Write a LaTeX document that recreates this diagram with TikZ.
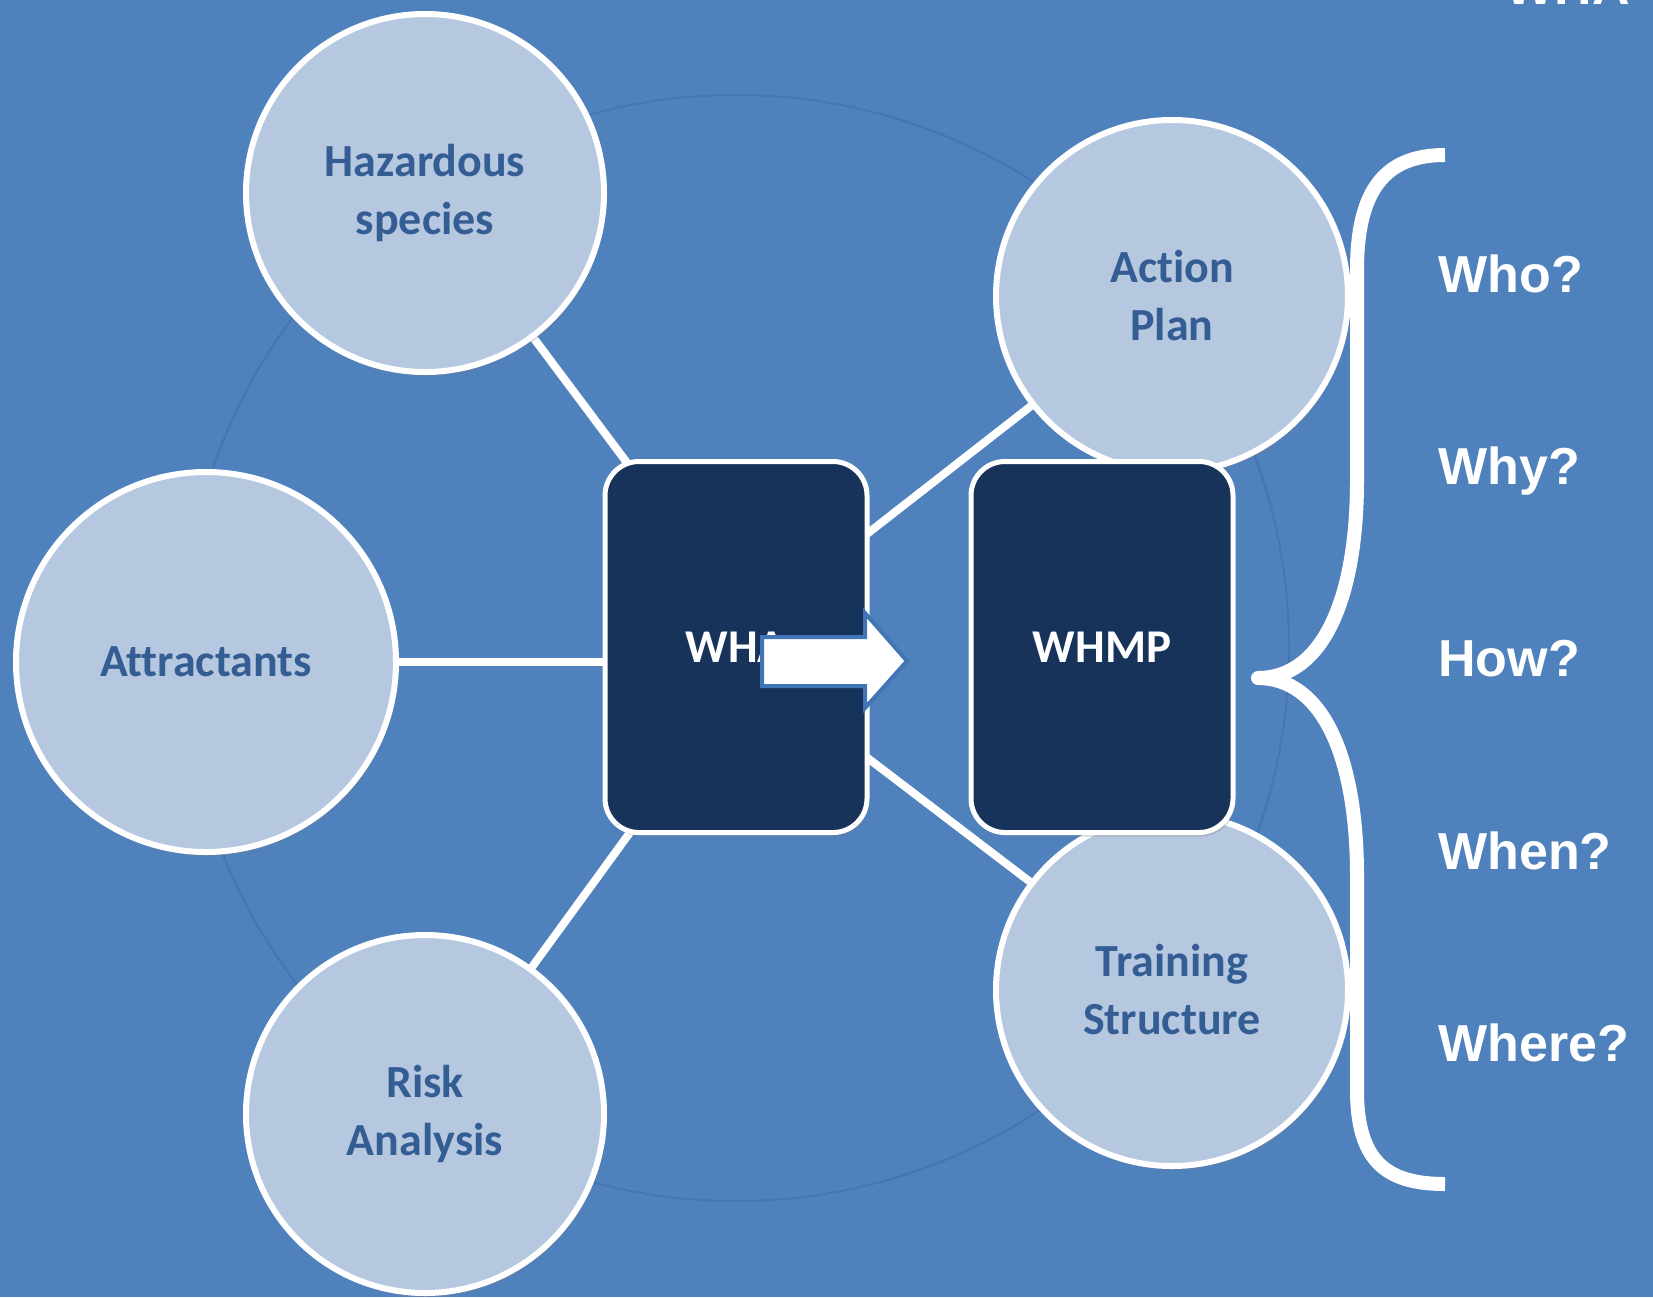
\documentclass[tikz,border=0pt]{standalone}
\usepackage{fontspec}
\setmainfont{Carlito}[Ligatures=CommonOff]
\newfontfamily\askfont{Liberation Sans}
\usetikzlibrary{shadows}

\definecolor{bgblue}{RGB}{79,129,189}
\definecolor{ringblue}{RGB}{70,118,178}
\definecolor{discfill}{RGB}{182,200,224}
\definecolor{disctext}{RGB}{52,93,148}
\definecolor{boxnavy}{RGB}{23,51,90}
\definecolor{arrowedge}{RGB}{66,117,182}

\pgfdeclarelayer{canvas}
\pgfdeclarelayer{spokes}
\pgfsetlayers{canvas,spokes,main}

\tikzset{
  disc/.style={circle, draw=white, line width=3pt, fill=discfill, inner sep=0pt,
    align=center, text=disctext, font=\fontsize{23}{29}\selectfont\bfseries,
    drop shadow={opacity=0.3, shadow xshift=1pt, shadow yshift=-2pt}},
  card/.style={rectangle, rounded corners=17pt, draw=white, line width=2.5pt,
    fill=boxnavy, minimum width=131pt, minimum height=185.5pt, text=white,
    font=\fontsize{23.5}{28}\selectfont\bfseries,
    drop shadow={opacity=0.3, shadow xshift=1pt, shadow yshift=-2pt}},
  spoke/.style={white, line width=4pt},
  ask/.style={anchor=base west, text=white, inner sep=0pt,
    font=\askfont\fontsize{26}{30}\selectfont\bfseries},
}

\begin{document}
\begin{tikzpicture}[x=0.5pt, y=-0.5pt]
    % 背景
    \useasboundingbox (0,0) rectangle (1653,1297);
    \begin{pgfonlayer}{canvas}
        \fill[bgblue] (0,0) rectangle (1653,1297);
        \draw[ringblue, line width=1pt] (736,648) circle [radius=553];
    \end{pgfonlayer}

    % 左侧圆
    \node[disc, minimum size=179pt] (haz) at (425,193) {Hazardous\\species};
    \node[disc, minimum size=190pt] (attr) at (206,662) {Attractants};
    \node[disc, minimum size=179pt] (risk) at (425,1114) {Risk\\Analysis};

    % 右侧圆
    \node[disc, minimum size=176pt] (act) at (1172,296) {Action\\Plan};
    \node[disc, minimum size=176pt] (train) at (1172,990) {Training\\Structure};

    % 方框
    \node[card] (wha) at (736,647) {WHA};
    \node[card] (whmp) at (1102,647) {WHMP};

    % 连线
    \begin{pgfonlayer}{spokes}
        \draw[spoke] (haz) -- ([xshift=14.5pt]wha.center);
        \draw[spoke] (attr) -- (attr -| wha.center);
        \draw[spoke] (risk) -- ([xshift=14.5pt]wha.center);
        \draw[spoke] (act) -- ([xshift=-7pt]wha.center);
        \draw[spoke] (train) -- ([xshift=-7pt]wha.center);
    \end{pgfonlayer}

    % 箭头
    \draw[fill=white, draw=arrowedge, line width=2pt]
        (762,637) -- (865,637) -- (865,613) -- (907,661)
        -- (865,708) -- (865,686) -- (762,686) -- cycle;

    % 大括号
    \draw[white, line width=7pt, line join=round]
        (1445,155) .. controls (1385,155) and (1357,190) .. (1357,270)
        -- (1357,480) .. controls (1357,600) and (1322,678) .. (1258,678)
        .. controls (1322,678) and (1357,756) .. (1357,876)
        -- (1357,1090) .. controls (1357,1160) and (1385,1184) .. (1445,1184);

    % 问题
    \node[ask] (who) at (1438,292) {Who?};
    \node[ask] (why) at (1438,484) {Why?};
    \node[ask] (how) at (1438,676) {How?};
    \node[ask] (when) at (1438,869) {When?};
    \node[ask] (where) at (1438,1061) {Where?};

    % 顶部被截断的标题
    \node[ask] (title) at (1505,4) {WHA};
\end{tikzpicture}
\end{document}
